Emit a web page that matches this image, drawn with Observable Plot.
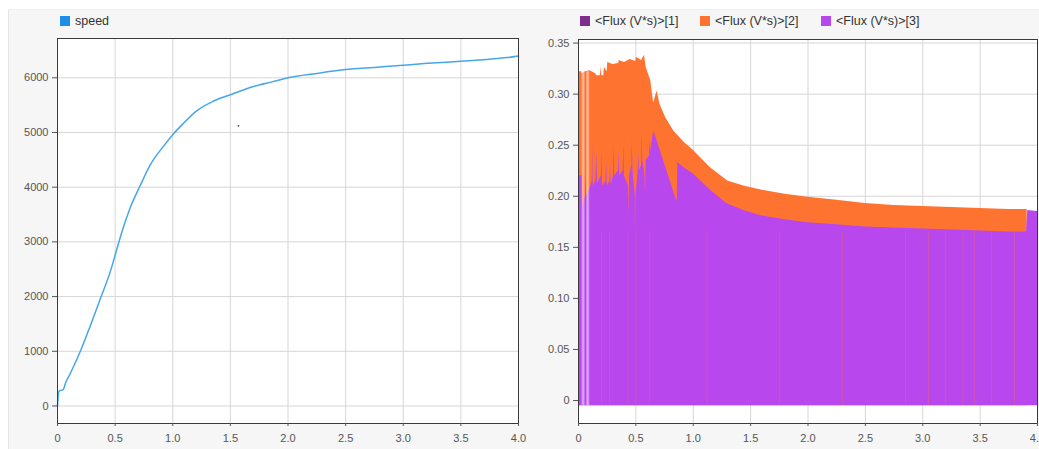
<!DOCTYPE html>
<html><head><meta charset="utf-8">
<script src="https://cdn.jsdelivr.net/npm/d3@7"></script>
<script src="https://cdn.jsdelivr.net/npm/@observablehq/plot@0.6"></script>
<style>
body{margin:0;background:#fff;font-family:"Liberation Sans",Arial,sans-serif;}
#wrap{position:relative;width:1039px;height:449px;overflow:hidden;background:#fff}
#bg{position:absolute;left:8px;top:9px;right:0;bottom:0;background:#f6f6f6;border-left:1px solid #e4e4e4;border-top:1px solid #f0f0f0}
.item{position:absolute;font-size:12.5px;color:#333;display:flex;align-items:center;white-space:nowrap;top:14px;height:14px}
.sw{display:inline-block;width:10px;height:10px;margin-right:5px}
#left{position:absolute;left:0;top:0}
#right{position:absolute;left:520px;top:0}
</style></head>
<body>
<div id="wrap"><div id="bg"></div>
<div id="left"></div><div id="right"></div>
<div id="legL"></div><div id="legR"></div>
</div>
<script>
// ---- data ----
const xTicks = [0, 0.5, 1, 1.5, 2, 2.5, 3, 3.5, 4];
const speedTicks = [0, 1000, 2000, 3000, 4000, 5000, 6000];
const fluxTicks = [0, 0.05, 0.10, 0.15, 0.20, 0.25, 0.30, 0.35];

const speedTime = [0, 0.01, 0.02, 0.05, 0.07, 0.11, 0.2, 0.28, 0.37, 0.46, 0.51, 0.56, 0.63, 0.72, 0.8, 0.92, 1.0, 1.09, 1.21, 1.35, 1.5, 1.7, 1.87, 2.0, 2.25, 2.5, 2.75, 3.0, 3.25, 3.5, 3.75, 3.9, 4.0];
const speedValue = [0, 250, 280, 300, 420, 590, 1010, 1440, 1950, 2470, 2830, 3190, 3620, 4040, 4390, 4750, 4960, 5160, 5400, 5570, 5690, 5840, 5930, 6000, 6080, 6150, 6190, 6230, 6270, 6300, 6340, 6370, 6400];
const strayTime = [1.57];
const strayValue = [5120];

const flux1Time = [0, 0.004];
const flux1Top = [0.018, 0.018];

const flux2Time = [0, 0.03, 0.031, 0.06, 0.1, 0.15, 0.16, 0.19, 0.195, 0.2, 0.205, 0.22, 0.225, 0.25, 0.255, 0.3, 0.35, 0.355, 0.4, 0.45, 0.5, 0.505, 0.55, 0.575, 0.59, 0.63, 0.655, 0.685, 0.71, 0.76, 0.83, 0.92, 1.0, 1.15, 1.3, 1.44, 1.6, 1.8, 2.0, 2.25, 2.5, 2.75, 3.0, 3.25, 3.5, 3.75, 3.91];
const flux2Top = [0.322, 0.322, 0.320, 0.322, 0.323, 0.320, 0.318, 0.318, 0.327, 0.320, 0.318, 0.318, 0.326, 0.322, 0.331, 0.329, 0.330, 0.333, 0.331, 0.334, 0.332, 0.336, 0.333, 0.338, 0.326, 0.313, 0.291, 0.303, 0.290, 0.277, 0.264, 0.253, 0.245, 0.228, 0.215, 0.210, 0.206, 0.202, 0.199, 0.196, 0.193, 0.191, 0.190, 0.189, 0.188, 0.187, 0.187];

const flux3Time = [0, 0.035, 0.037, 0.06, 0.065, 0.07, 0.09, 0.12, 0.123, 0.128, 0.15, 0.16, 0.165, 0.2, 0.204, 0.21, 0.24, 0.245, 0.25, 0.275, 0.279, 0.285, 0.305, 0.308, 0.315, 0.35, 0.355, 0.36, 0.39, 0.395, 0.4, 0.435, 0.439, 0.445, 0.465, 0.468, 0.475, 0.495, 0.497, 0.5, 0.52, 0.526, 0.53, 0.55, 0.555, 0.56, 0.58, 0.584, 0.59, 0.62, 0.625, 0.63, 0.657, 0.845, 0.86, 0.865, 0.93, 1.0, 1.15, 1.29, 1.44, 1.59, 1.8, 2.0, 2.25, 2.5, 2.75, 3.0, 3.25, 3.5, 3.75, 3.905, 3.915, 4.0];
const flux3Top = [0.220, 0.220, 0.190, 0.200, 0.222, 0.200, 0.205, 0.215, 0.249, 0.210, 0.215, 0.243, 0.212, 0.220, 0.245, 0.210, 0.215, 0.235, 0.210, 0.215, 0.232, 0.210, 0.220, 0.251, 0.220, 0.225, 0.245, 0.220, 0.225, 0.251, 0.220, 0.210, 0.183, 0.220, 0.230, 0.255, 0.225, 0.200, 0.154, 0.200, 0.225, 0.242, 0.225, 0.230, 0.263, 0.235, 0.220, 0.200, 0.235, 0.240, 0.255, 0.245, 0.264, 0.199, 0.195, 0.233, 0.227, 0.222, 0.206, 0.193, 0.186, 0.181, 0.177, 0.174, 0.172, 0.170, 0.169, 0.168, 0.167, 0.166, 0.165, 0.165, 0.186, 0.185];
const fluxFloor = -0.005;

const lightStripeTimes = [0.035, 0.045, 0.075, 0.085];
const faintStripeTimes = [0.2, 0.27, 0.43, 0.5, 0.62, 1.12, 1.75, 2.3, 2.85, 3.05, 3.2, 3.35, 3.45, 3.6, 3.8];
const faintStripeTop = 0.165;

const seriesNames = ["<Flux (V*s)>[1]", "<Flux (V*s)>[2]", "<Flux (V*s)>[3]"];
const seriesColors = ["#7e2f8e", "#ff7331", "#b847ee"];
const speedColor = "#45a6ec";
const speedSwatch = "#1d8fe6";

// ---- build ----
const speedData = speedTime.map((t, i) => ({t, v: speedValue[i]}));
const strayData = strayTime.map((t, i) => ({t, v: strayValue[i]}));
const f1 = flux1Time.map((t, i) => ({t, v: flux1Top[i]}));
const f2 = flux2Time.map((t, i) => ({t, v: flux2Top[i]}));
const f3 = flux3Time.map((t, i) => ({t, v: flux3Top[i]}));

const fmtX = d => d === 0 ? "0" : d.toFixed(1);
const fmtF = d => d === 0 ? "0" : d.toFixed(2);
const font = '"Liberation Sans", Arial, sans-serif';
const style = {background: "transparent", fontSize: "11px", color: "#555", fontFamily: font, overflow: "visible"};
const gridStroke = "#d6d6d6";

const left = Plot.plot({
  width: 525, height: 449,
  marginLeft: 57, marginRight: 7, marginTop: 38, marginBottom: 26,
  style,
  x: {domain: [0, 4], label: null},
  y: {domain: [-320, 6718], label: null},
  marks: [
    Plot.frame({fill: "white", stroke: null}),
    Plot.gridX(xTicks, {stroke: gridStroke, strokeOpacity: 1}),
    Plot.gridY(speedTicks, {stroke: gridStroke, strokeOpacity: 1}),
    Plot.lineY(speedData, {x: "t", y: "v", stroke: speedColor, strokeWidth: 1.5, curve: "monotone-x"}),
    Plot.dot(strayData, {x: "t", y: "v", r: 0.8, fill: "#333", stroke: null}),
    Plot.frame({stroke: "#3a3a3a"}),
    Plot.axisX(xTicks, {tickFormat: fmtX, tickSize: 3, tickPadding: 8, fill: "#555", label: null}),
    Plot.axisY(speedTicks, {tickFormat: d => String(d), tickSize: 5, tickPadding: 4, fill: "#555", label: null})
  ]
});
document.getElementById("left").appendChild(left);

const right = Plot.plot({
  width: 519, height: 449,
  marginLeft: 58, marginRight: 2, marginTop: 39, marginBottom: 26,
  style,
  x: {domain: [0, 4], label: null},
  y: {domain: [-0.0225, 0.3535], label: null},
  marks: [
    Plot.frame({fill: "white", stroke: null}),
    Plot.gridX(xTicks, {stroke: gridStroke, strokeOpacity: 1}),
    Plot.gridY(fluxTicks, {stroke: gridStroke, strokeOpacity: 1}),
    Plot.areaY(f1, {x: "t", y1: fluxFloor, y2: "v", fill: seriesColors[0]}),
    Plot.areaY(f2, {x: "t", y1: fluxFloor, y2: "v", fill: seriesColors[1]}),
    Plot.areaY(f3, {x: "t", y1: fluxFloor, y2: "v", fill: seriesColors[2]}),
    Plot.ruleX(faintStripeTimes, {y1: fluxFloor, y2: faintStripeTop, stroke: "#ff7331", strokeOpacity: 0.3, strokeWidth: 1}),
    Plot.ruleX(lightStripeTimes, {y1: fluxFloor, y2: 0.322, stroke: "#ffffff", strokeOpacity: 0.35, strokeWidth: 2}),
    Plot.frame({stroke: "#3a3a3a"}),
    Plot.axisX(xTicks, {tickFormat: fmtX, tickSize: 3, tickPadding: 8, fill: "#555", label: null}),
    Plot.axisY(fluxTicks, {tickFormat: fmtF, tickSize: 5, tickPadding: 4, fill: "#555", label: null})
  ]
});
document.getElementById("right").appendChild(right);

// legends
function item(parent, x, color, label) {
  const d = document.createElement("div");
  d.className = "item";
  d.style.left = x + "px";
  const s = document.createElement("span");
  s.className = "sw"; s.style.background = color;
  d.appendChild(s);
  d.appendChild(document.createTextNode(label));
  parent.appendChild(d);
}
item(document.getElementById("legL"), 60, speedSwatch, "speed");
const legR = document.getElementById("legR");
const legX = [580, 700, 821];
seriesNames.forEach((n, i) => item(legR, legX[i], seriesColors[i], n));
</script>
</body></html>
